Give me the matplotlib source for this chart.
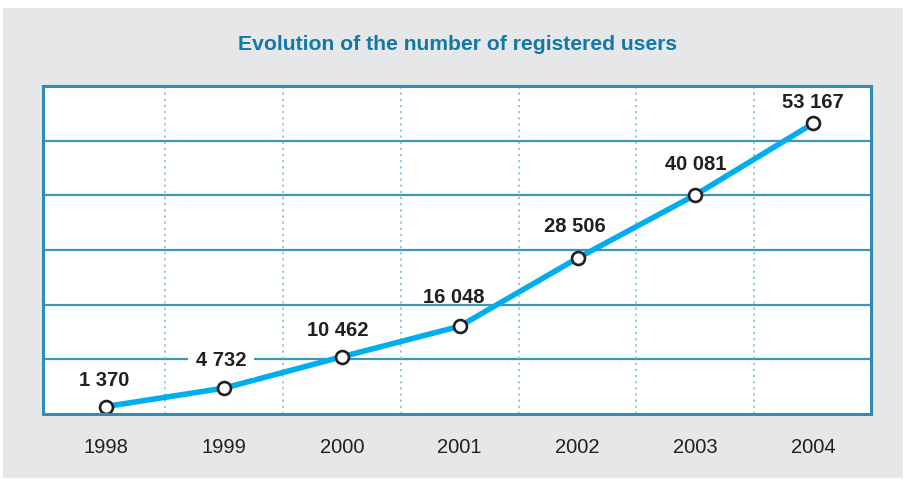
import matplotlib
matplotlib.use("Agg")
import matplotlib.pyplot as plt
from matplotlib.patches import Rectangle

# data
years = ["1998", "1999", "2000", "2001", "2002", "2003", "2004"]
users = [1370, 4732, 10462, 16048, 28506, 40081, 53167]
labels = ["1 370", "4 732", "10 462", "16 048", "28 506", "40 081", "53 167"]

font = ["Liberation Sans", "DejaVu Sans"]
dark = "#231f20"
frame = "#2f8db2"

fig = plt.figure(figsize=(9.05, 4.8), dpi=100, facecolor="white")
# grey panel behind everything
fig.patches.append(Rectangle((3 / 905, 2 / 480), 900 / 905, 470 / 480,
                             transform=fig.transFigure, facecolor="#e6e7e8",
                             edgecolor="none", zorder=-5))

ax = fig.add_axes([43 / 905, 66 / 480, 828 / 905, 328 / 480])
ax.set_facecolor("white")
x = list(range(len(years)))

ax.set_xlim(-0.535, 6.49)
ax.set_ylim(0, 60000)

# horizontal grid, solid
for yv in range(10000, 60000, 10000):
    ax.axhline(yv, color="#3f97b8", lw=1.6, zorder=1)
# vertical dotted separators between years
for xv in range(len(years) - 1):
    ax.axvline(xv + 0.5, color="#8cc3db", lw=1.3, ls=(0, (1.2, 2.2)), zorder=1)

ax.plot(x, users, color="#00aeef", lw=4.0, zorder=3, solid_capstyle="round")
ax.plot(x, users, ls="none", marker="o", ms=9.3, mfc="white", mec=dark,
        mew=1.9, zorder=4)

# value labels (offsets in points)
offs = [(-1, 19), (-2, 20), (-3, 19), (-4, 21), (-2, 23), (0, 22), (0, 15)]
for i in range(len(years)):
    kw = {}
    if i == 1:
        kw["bbox"] = dict(boxstyle="square,pad=0.4", fc="white", ec="none")
    ax.annotate(labels[i], (x[i], users[i]), xytext=offs[i],
                textcoords="offset points", ha="center", va="center",
                fontsize=14.5, fontweight="bold", color=dark,
                family=font, zorder=5, **kw)

ax.set_xticks(x)
ax.set_xticklabels(years, family=font, fontsize=14.5, color=dark)
ax.tick_params(axis="x", length=0, pad=17)
ax.set_yticks([])
for s in ax.spines.values():
    s.set_color(frame)
    s.set_linewidth(2.2)
    s.set_zorder(6)

fig.text(457 / 905, 1 - 44 / 480, "Evolution of the number of registered users",
         ha="center", va="center", fontsize=15.2, fontweight="bold",
         color="#1278a5", family=font)

fig.savefig("out.png", dpi=100, facecolor=fig.get_facecolor())
